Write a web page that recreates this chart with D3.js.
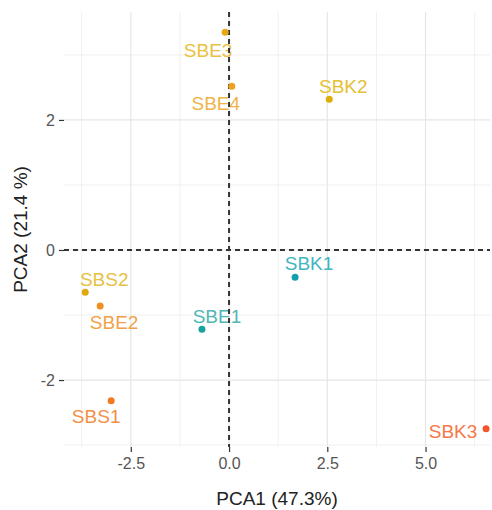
<!DOCTYPE html>
<html>
<head>
<meta charset="utf-8">
<script src="https://cdn.jsdelivr.net/npm/d3@7"></script>
<style>
  body { margin: 0; background: #fff; }
  svg { display: block; font-family: "Liberation Sans", Arial, sans-serif; }
</style>
</head>
<body>
<svg width="492" height="510"></svg>
<script>
// samples and their PCA scores
const samples = ["SBE3", "SBE4", "SBK2", "SBS2", "SBE2", "SBE1", "SBS1", "SBK1", "SBK3"];
const pca1 = [-0.10, 0.07, 2.55, -3.66, -3.28, -0.69, -3.00, 1.68, 6.54];
const pca2 = [3.35, 2.52, 2.32, -0.65, -0.86, -1.22, -2.32, -0.42, -2.75];
const dotColors = ["#E4A814", "#EFA01E", "#DFAE06", "#DFA80E", "#EE9022", "#1AA39E", "#F07A22", "#12A0AE", "#F2582A"];
const labelColors = ["#E9C240", "#EFB448", "#E5C032", "#E8C042", "#F1A248", "#4FB8B4", "#F39048", "#3FB6C0", "#F57848"];

const xTicks = [-2.5, 0, 2.5, 5];
const xTickLabels = ["-2.5", "0.0", "2.5", "5.0"];
const yTicks = [-2, 0, 2];
const yTickLabels = ["-2", "0", "2"];
const xMinor = [-3.75, -1.25, 1.25, 3.75, 6.25];
const yMinor = [-3, -1, 1, 3];

// where each label sits relative to its point (px), like ggrepel placed them
const labelShift = [[-17, 18], [-16, 17], [14, -13], [19, -13], [14, 17], [15, -13], [-15, 16], [14, -14], [-33, 3]];

const svg = d3.select("svg");
const pL = 64, pR = 490, pT = 12, pB = 447;

const x = d3.scaleLinear().domain([-4.2, 6.64]).range([pL, pR]);
const y = d3.scaleLinear().domain([-3.03, 3.66]).range([pB, pT]);

// grid
const grid = svg.append("g");
grid.selectAll(".vminor").data(xMinor).join("line")
  .attr("x1", d => x(d)).attr("x2", d => x(d)).attr("y1", pT).attr("y2", pB)
  .attr("stroke", "#f0f0f0").attr("stroke-width", 1);
grid.selectAll(".hminor").data(yMinor).join("line")
  .attr("y1", d => y(d)).attr("y2", d => y(d)).attr("x1", pL).attr("x2", pR)
  .attr("stroke", "#f0f0f0").attr("stroke-width", 1);
grid.selectAll(".vmajor").data(xTicks).join("line")
  .attr("x1", d => x(d)).attr("x2", d => x(d)).attr("y1", pT).attr("y2", pB)
  .attr("stroke", "#e6e6e6").attr("stroke-width", 1.2);
grid.selectAll(".hmajor").data(yTicks).join("line")
  .attr("y1", d => y(d)).attr("y2", d => y(d)).attr("x1", pL).attr("x2", pR)
  .attr("stroke", "#e6e6e6").attr("stroke-width", 1.2);

// axes
const xAxis = svg.append("g").attr("transform", `translate(0,${pB})`)
  .call(d3.axisBottom(x).tickValues(xTicks).tickFormat((d, i) => xTickLabels[i]).tickSize(5).tickPadding(6));
const yAxis = svg.append("g").attr("transform", `translate(${pL},0)`)
  .call(d3.axisLeft(y).tickValues(yTicks).tickFormat((d, i) => yTickLabels[i]).tickSize(5).tickPadding(4));
[xAxis, yAxis].forEach(a => {
  a.select(".domain").remove();
  a.selectAll(".tick line").attr("stroke", "#333").attr("stroke-width", 1.2);
  a.selectAll(".tick text").attr("fill", "#555").style("font-size", "16px")
    .style("font-family", "'Liberation Sans', Arial, sans-serif");
});

const idx = d3.range(samples.length);

// labels (under the dashed lines, as in the original)
svg.append("g").selectAll("text").data(idx).join("text")
  .attr("x", i => x(pca1[i]) + labelShift[i][0])
  .attr("y", i => y(pca2[i]) + labelShift[i][1])
  .attr("text-anchor", "middle").attr("dominant-baseline", "central")
  .style("font-size", "19px")
  .attr("fill", i => labelColors[i])
  .text(i => samples[i]);

// zero lines
svg.append("line")
  .attr("x1", pL).attr("x2", pR).attr("y1", y(0)).attr("y2", y(0))
  .attr("stroke", "#333").attr("stroke-width", 2).attr("stroke-dasharray", "5,4");
svg.append("line")
  .attr("x1", x(0)).attr("x2", x(0)).attr("y1", pT).attr("y2", pB)
  .attr("stroke", "#333").attr("stroke-width", 2).attr("stroke-dasharray", "5,4");

// points
svg.append("g").selectAll("circle").data(idx).join("circle")
  .attr("cx", i => x(pca1[i])).attr("cy", i => y(pca2[i])).attr("r", 3.5)
  .attr("fill", i => dotColors[i]);

// titles
svg.append("text")
  .attr("x", (pL + pR) / 2).attr("y", 505)
  .attr("text-anchor", "middle").style("font-size", "19px").attr("fill", "#222")
  .text("PCA1 (47.3%)");
svg.append("text")
  .attr("transform", `translate(27,${(pT + pB) / 2}) rotate(-90)`)
  .attr("text-anchor", "middle").style("font-size", "19px").attr("fill", "#222")
  .text("PCA2 (21.4 %)");
</script>
</body>
</html>
